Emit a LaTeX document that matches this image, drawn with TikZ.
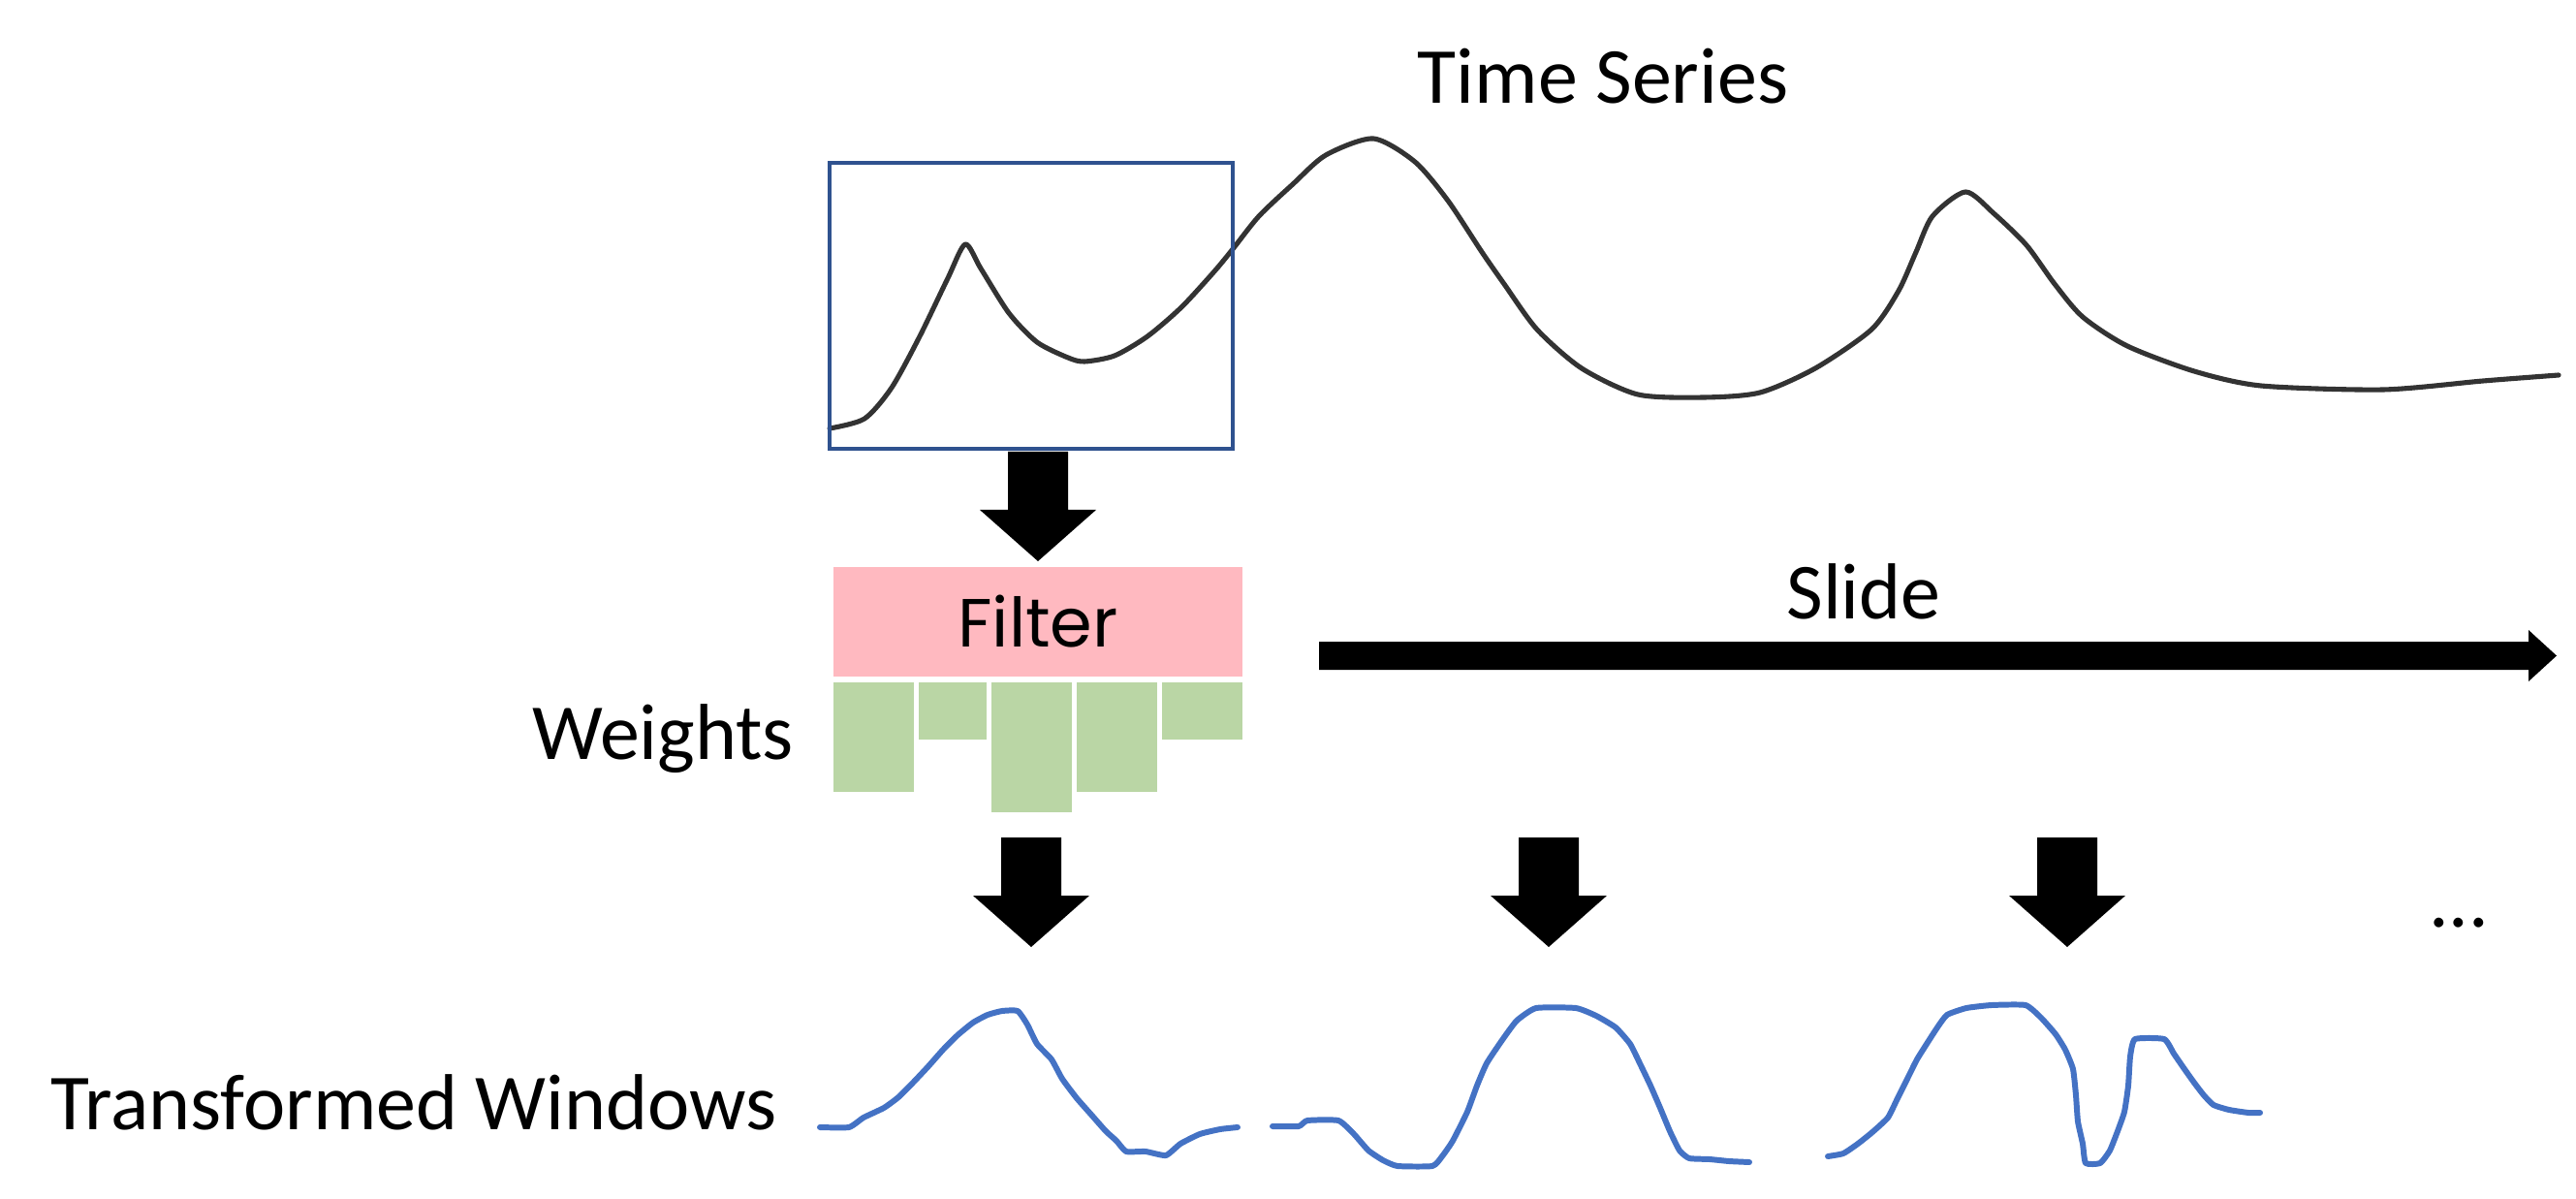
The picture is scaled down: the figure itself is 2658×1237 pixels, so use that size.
\documentclass[tikz,border=0pt]{standalone}
\usepackage{fontspec}
\setmainfont{Carlito}
\newfontfamily\filterfont{Poppins}
\usetikzlibrary{calc}
\definecolor{seriesgray}{RGB}{51,51,51}
\definecolor{winblue}{RGB}{47,82,143}
\definecolor{curveblue}{RGB}{68,114,196}
\definecolor{filterpink}{RGB}{255,185,192}
\definecolor{weightgreen}{RGB}{186,214,165}
\def\blockarrow(#1,#2){\fill[black] (#1-31,#2) -- (#1+31,#2) -- (#1+31,#2+60) -- (#1+60,#2+60) -- (#1,#2+113) -- (#1-60,#2+60) -- (#1-31,#2+60) -- cycle;}
\tikzset{
  lbl/.style={font=\fontsize{23.3}{28}\selectfont, inner sep=0pt},
  series/.style={line width=1.45pt, color=seriesgray, line join=round, line cap=round},
  wincurve/.style={line width=1.7pt, color=curveblue, line join=round, line cap=round}
}

\begin{document}
\begin{tikzpicture}[x=0.01cm, y=-0.01cm]
		%%%%% START %%%%%
		\useasboundingbox (0,0) rectangle (2658,1237);
		
		\node[lbl, anchor=base] (tslabel) at (1654,107) {Time Series};
		
		\draw[series] plot[smooth, tension=0.45] coordinates {(856,442) (892,432) (920,400) (949,347) (978,287) (996,252) (1012,277) (1041,323) (1070,353) (1102,369) (1119,373) (1150,367) (1184,347) (1219,317) (1253,280) (1272,257) (1299,223) (1334,190) (1368,160) (1417,143) (1460,167) (1494,207) (1529,260) (1552,293) (1586,340) (1632,380) (1690,407) (1758,410) (1816,405) (1873,380) (1931,340) (1959,300) (1977,260) (1994,223) (2028,198) (2057,220) (2091,253) (2120,293) (2149,327) (2195,357) (2264,383) (2333,398) (2459,402) (2562,393) (2640,387)};
		
		\draw[line width=1.3pt, color=winblue] (856,168) rectangle (1272,463);
		
		\blockarrow(1071,466)
		
		\node[fill=filterpink, minimum width=4.22cm, minimum height=1.13cm, inner sep=0pt, font=\filterfont\fontsize{20}{24}\selectfont] (filter) at (1071,641.5) {Filter};
		
		\foreach \xa/\xb/\yb in {860/943/817, 948/1018/763, 1023/1106/838, 1111/1194/817, 1199/1282/763}
			\fill[weightgreen] (\xa,704) rectangle (\xb,\yb);
		
		\node[lbl, anchor=base] (weights) at (684,783) {Weights};
		
		\node[lbl, anchor=base] (slide) at (1923,639) {Slide};
		\fill[black] (1361,662) -- (2609,662) -- (2609,650) -- (2638,676.5) -- (2609,703) -- (2609,691) -- (1361,691) -- cycle;
		
		\blockarrow(1064,864)
		\blockarrow(1598,864)
		\blockarrow(2133,864)
		
		\node[lbl, anchor=base] (more) at (2537,956) {...};
		
		\node[lbl, anchor=base] (twlabel) at (427,1165) {Transformed Windows};
		
		\draw[wincurve] plot[smooth, tension=0.3] coordinates {(846,1163) (876,1163) (891,1153) (912,1143) (927,1132) (942,1117) (958,1100) (973,1083) (988,1068) (1004,1055) (1019,1047) (1034,1043) (1050,1043) (1060,1057) (1070,1077) (1085,1093) (1096,1113) (1111,1133) (1126,1150) (1141,1167) (1152,1177) (1162,1188) (1182,1188) (1203,1192) (1218,1180) (1238,1170) (1259,1165) (1277,1163)};
		\draw[wincurve] plot[smooth, tension=0.3] coordinates {(1313,1162) (1340,1162) (1349,1156) (1381,1156) (1397,1170) (1412,1187) (1427,1197) (1442,1203) (1478,1203) (1488,1193) (1499,1177) (1514,1147) (1524,1120) (1534,1097) (1550,1073) (1565,1053) (1585,1040) (1626,1040) (1647,1048) (1667,1060) (1682,1077) (1692,1097) (1703,1120) (1713,1143) (1723,1167) (1733,1187) (1743,1195) (1764,1196) (1784,1198) (1805,1199)};
		\draw[wincurve] plot[smooth, tension=0.3] coordinates {(1886,1193) (1902,1190) (1917,1180) (1932,1168) (1948,1153) (1958,1133) (1968,1113) (1978,1093) (1988,1077) (1999,1060) (2009,1047) (2029,1040) (2055,1037) (2090,1037) (2106,1050) (2121,1067) (2131,1083) (2139,1103) (2142,1130) (2144,1157) (2149,1180) (2152,1200) (2167,1200) (2177,1187) (2185,1167) (2192,1147) (2196,1120) (2198,1090) (2203,1072) (2233,1072) (2243,1087) (2254,1103) (2264,1117) (2274,1130) (2284,1140) (2300,1145) (2320,1148) (2332,1148)};
		
		%%%%% END %%%%%
	\end{tikzpicture}
\end{document}
